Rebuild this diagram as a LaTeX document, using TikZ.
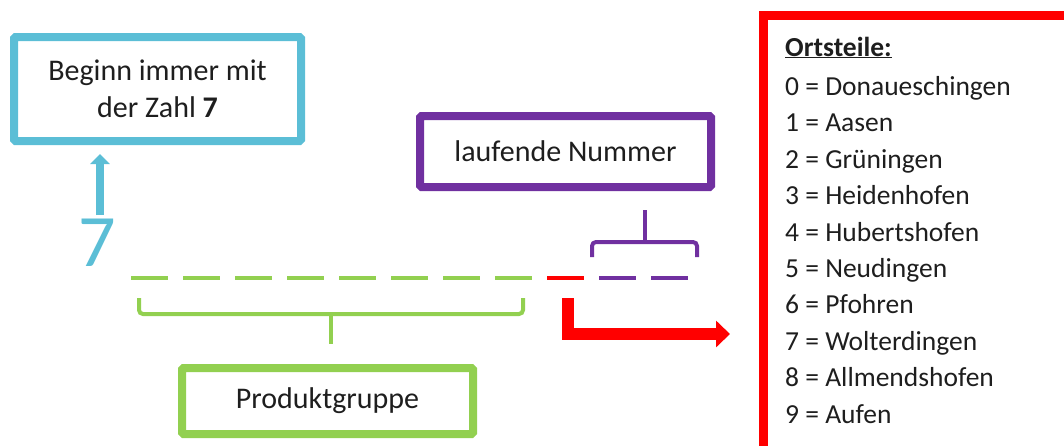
\documentclass[tikz,border=0pt]{standalone}
\usepackage{fontspec}
\setmainfont{Carlito}
\usetikzlibrary{arrows.meta}
\definecolor{cblue}{RGB}{91,190,214}
\definecolor{cgreen}{RGB}{146,208,80}
\definecolor{cpurple}{RGB}{112,48,160}
\definecolor{cred}{RGB}{255,0,0}
\definecolor{ctext}{RGB}{30,30,30}
\begin{document}
\begin{tikzpicture}[x=1pt,y=-1pt,
  box/.style={draw, line width=8pt, rounded corners=1.5pt, inner sep=0pt, align=center, text=ctext, font=\fontsize{30}{37}\selectfont},
  dashline/.style={line width=4.5pt, dash pattern=on 37pt off 15pt},
  bracket/.style={line width=4pt, rounded corners=4pt},
  listfont/.style={font=\fontsize{27.5}{30}\selectfont, text=ctext, inner sep=0pt, anchor=base west}]
\useasboundingbox (0,0) rectangle (1064,445);

% boxes
\node[box, draw=cblue, minimum width=287pt, minimum height=104pt] (begin) at (157.5,89) {Beginn immer mit\\der Zahl \textbf{7}};
\node[box, draw=cpurple, minimum width=291pt, minimum height=71pt] (lauf) at (565.5,151.5) {laufende Nummer};
\node[box, draw=cgreen, minimum width=291pt, minimum height=66pt] (prod) at (327.5,401) {Produktgruppe};
\node[draw=cred, line width=8.5pt, inner sep=0pt, minimum width=330pt, minimum height=470pt, anchor=north west] (ortbox) at (759,11) {};

% big seven
\node[text=cblue, font=\fontsize{74}{74}\selectfont, inner sep=0pt] (seven) at (97,243) {7};

% blue arrow
\coordinate (bstart) at (100,215);
\draw[cblue, line width=8pt, shorten >=9pt, -{Triangle[length=10pt,width=19pt]}] (bstart) -- (bstart |- begin.south);

% dashes
\draw[cgreen, dashline] (131,278) -- (532,278);
\draw[cred, dashline] (547,278) -- (584,278);
\draw[cpurple, dashline] (599,278) -- (688,278);

% green bracket
\coordinate (gstem) at (331,314);
\draw[cgreen, bracket] (139,298) -- (139,314) -- (523,314) -- (523,298);
\draw[cgreen, line width=4pt, shorten >=20pt] (gstem) -- (gstem |- prod.north);

% purple bracket
\coordinate (pstem) at (645,242);
\draw[cpurple, bracket] (592,257) -- (592,242) -- (697,242) -- (697,257);
\draw[cpurple, line width=4pt, shorten >=19pt] (pstem) -- (pstem |- lauf.south);

% red arrow
\coordinate (rstart) at (568,298);
\coordinate (rend) at (730,334);
\draw[cred, line width=12.5pt, line join=miter, -{Triangle[length=14pt,width=26pt]}] (rstart) -- (rstart |- rend) -- (rend);

% list
\node[listfont, font=\fontsize{27.5}{30}\selectfont\bfseries] (title) at (785,56) {\underline{Ortsteile:}};
\foreach \i/\nm in {0/Donaueschingen,1/Aasen,2/Grüningen,3/Heidenhofen,4/Hubertshofen,5/Neudingen,6/Pfohren,7/Wolterdingen,8/Allmendshofen,9/Aufen}{
  \node[listfont] (o\i) at (785,95.5+36.4*\i) {\i{} = \nm};
}
\end{tikzpicture}
\end{document}
